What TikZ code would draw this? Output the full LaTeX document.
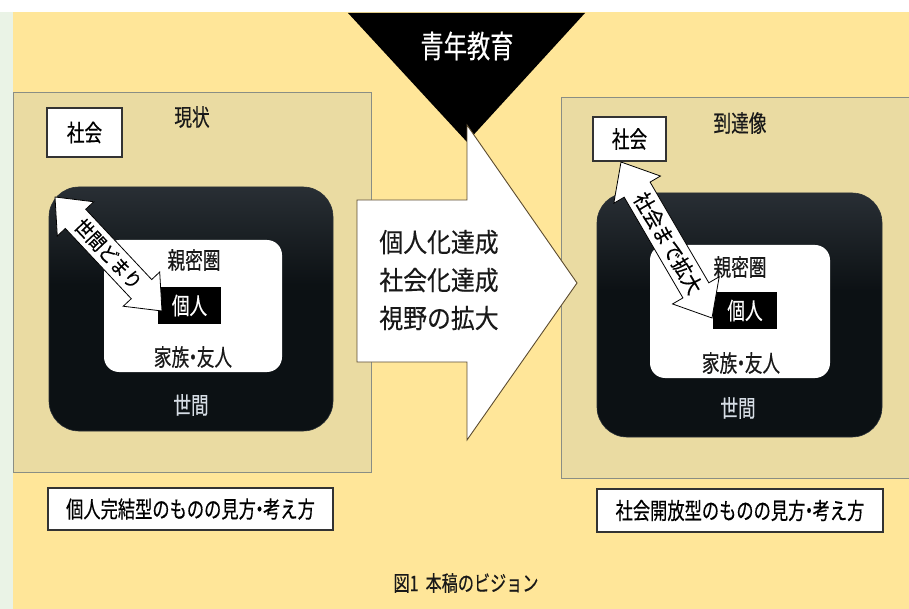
\documentclass[tikz,border=0pt]{standalone}
\usepackage{fontspec}
\setmainfont{Noto Sans CJK JP}
\newfontfamily\jpn[FakeStretch=0.75,FakeBold=0.4]{Noto Sans CJK JP}
\newfontfamily\jpm[FakeStretch=0.9,FakeBold=0.3]{Noto Sans CJK JP}
\usetikzlibrary{calc}
\definecolor{bgy}{HTML}{FFE699}
\definecolor{panel}{HTML}{EADBA2}
\definecolor{panelbd}{HTML}{8A8E84}
\definecolor{dtop}{HTML}{565D63}
\definecolor{dmid}{HTML}{2A3036}
\definecolor{dbot}{HTML}{0C1114}
\definecolor{sekentx}{HTML}{D6DDE5}
\definecolor{arrowbd}{HTML}{5C4B2E}
\definecolor{stripg}{HTML}{EAF3E6}
\pgfdeclareverticalshading{darkgrad}{100bp}{color(0bp)=(dbot); color(55bp)=(dbot); color(76bp)=(dmid); color(100bp)=(dtop)}
\newcommand\mkdblarrow[5]{%
 \draw[dblshape] (#1)
  -- ($(#1)!#5!(#2)!#4!90:(#2)$)
  -- ($(#1)!#5!(#2)!#3!90:(#2)$)
  -- ($(#2)!#5!(#1)!#3!-90:(#1)$)
  -- ($(#2)!#5!(#1)!#4!-90:(#1)$)
  -- (#2)
  -- ($(#2)!#5!(#1)!#4!90:(#1)$)
  -- ($(#2)!#5!(#1)!#3!90:(#1)$)
  -- ($(#1)!#5!(#2)!#3!-90:(#2)$)
  -- ($(#1)!#5!(#2)!#4!-90:(#2)$)
  -- cycle;}
\newcommand\ndot{\kern-5pt・\kern-5pt}
\begin{document}
\begin{tikzpicture}[x=1pt,y=-1pt,
  every node/.style={inner sep=0pt, outer sep=0pt},
  panelbox/.style={draw=panelbd, fill=panel, line width=1pt},
  darkbox/.style={draw=dmid, line width=0.6pt, rounded corners=30pt, shading=darkgrad},
  innerbox/.style={fill=white, rounded corners=15pt},
  socbox/.style={draw=black!80, fill=white, line width=1.1pt, font=\jpn\fontsize{23.5}{25}\selectfont},
  kojin/.style={fill=black, text=white, font=\jpn\fontsize{23.5}{25}\selectfont},
  lbl/.style={font=\jpn\fontsize{23.5}{25}\selectfont, text=black!90},
  seken/.style={font=\jpn\fontsize{23.5}{25}\selectfont, text=sekentx},
  viewbox/.style={draw=black!80, fill=white, line width=1.3pt, font=\jpn\fontsize{23}{25}\selectfont},
  dblshape/.style={draw=black, fill=white, line width=0.8pt, line join=miter},
  arrowtxt/.style={font=\jpm\fontsize{19.5}{22}\selectfont}
]
\useasboundingbox (0,0) rectangle (909,609);
% background
\fill[white] (0,0) rectangle (909,609);
\fill[stripg] (0,12) rectangle (13,609);
\fill[bgy] (13,12) rectangle (909,609);

% panels
\node[panelbox, minimum width=358pt, minimum height=379pt] (lpanel) at (192,282.5) {};
\node[panelbox, minimum width=348pt, minimum height=380pt] (rpanel) at (735,288) {};

% center triangle
\coordinate (t1) at (348,13);
\coordinate (t2) at (585,13);
\coordinate (t3) at (467,142);
\fill[black] (t1) -- (t2) -- (t3) -- cycle;
\node[font=\jpn\fontsize{31}{33}\selectfont, text=white] (seinen) at (467,46) {青年教育};

% big arrow
\coordinate (b1) at (357,200);
\coordinate (b2) at (467,200);
\coordinate (b3) at (467,125);
\coordinate (b4) at (577,283);
\coordinate (b5) at (467,440);
\coordinate (b6) at (467,362);
\coordinate (b7) at (357,362);
\draw[draw=arrowbd, fill=white, line width=0.9pt, line join=miter] (b1) -- (b2) -- (b3) -- (b4) -- (b5) -- (b6) -- (b7) -- cycle;
\node[font=\jpm\fontsize{26.5}{38}\selectfont, align=center, text=black!90] (bigtxt) at (439,280) {個人化達成\\社会化達成\\視野の拡大};

% ---------- left panel ----------
\node[lbl] (lgenjo) at (192,117) {現状};
\node[socbox, minimum width=75pt, minimum height=49pt] (lsoc) at (84.5,132.5) {社会};
\node[darkbox, minimum width=284pt, minimum height=244pt] (ldark) at (191,309) {};
\node[innerbox, minimum width=178pt, minimum height=132pt] (lwhite) at (193,306) {};
\node[lbl] (lshin) at (194,260) {親密圏};
\node[kojin, minimum width=63pt, minimum height=37pt] (lkojin) at (189.5,305.5) {個人};
\node[lbl] (lkazoku) at (193,357) {家族\ndot 友人};
\node[seken] (lseken) at (191,405) {世間};
\coordinate (la) at (55,197);
\coordinate (lb) at (162,311);
\mkdblarrow{la}{lb}{14pt}{25pt}{30pt}
\node[arrowtxt, rotate=-46.8] (larrtxt) at ($(la)!0.5!(lb)$) {世間どまり};

% ---------- right panel ----------
\node[lbl] (rtoutatsu) at (740,123) {到達像};
\node[socbox, minimum width=73pt, minimum height=44pt] (rsoc) at (629.5,139) {社会};
\node[darkbox, minimum width=285pt, minimum height=244pt] (rdark) at (739.5,315) {};
\node[innerbox, minimum width=180pt, minimum height=133pt] (rwhite) at (740,311.5) {};
\node[lbl] (rshin) at (740,267) {親密圏};
\node[kojin, minimum width=64pt, minimum height=37pt] (rkojin) at (745,310.5) {個人};
\node[lbl] (rkazoku) at (741,363) {家族\ndot 友人};
\node[seken] (rseken) at (738,408) {世間};
\coordinate (ra) at (621,162);
\coordinate (rb) at (712,318);
\mkdblarrow{ra}{rb}{15pt}{27pt}{32pt}
\node[arrowtxt, font=\jpm\fontsize{21}{23}\selectfont, rotate=-59.7] (rarrtxt) at ($(ra)!0.52!(rb)$) {社会まで拡大};

% bottom boxes
\node[viewbox, minimum width=285pt, minimum height=42pt] (lview) at (190.5,509) {個人完結型のものの見方\ndot 考え方};
\node[viewbox, minimum width=286pt, minimum height=43pt] (rview) at (740,510.5) {社会開放型のものの見方\ndot 考え方};

% caption
\node[font=\jpn\fontsize{21.5}{23}\selectfont, text=black!90] (caption) at (466,583) {図1\hspace{7pt}本稿のビジョン};
\end{tikzpicture}
\end{document}
